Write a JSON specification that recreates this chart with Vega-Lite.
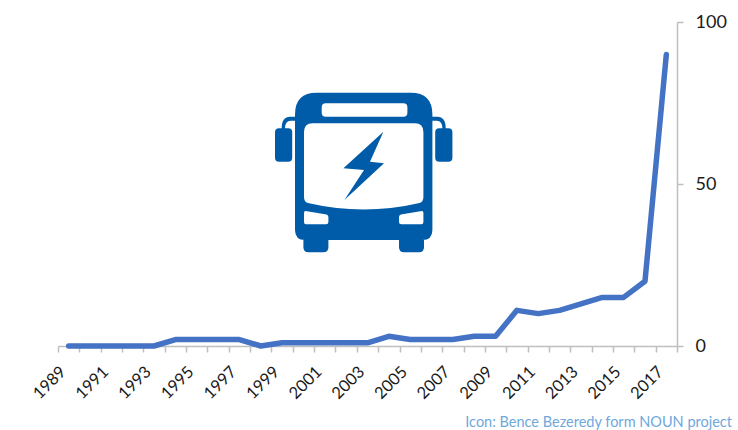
{
"$schema":"https://vega.github.io/schema/vega-lite/v6.json",
"width":619,"height":324,"autosize":{"type":"none"},
"padding":{"left":58,"top":22,"right":61,"bottom":84},
"background":"white",
"title":{"text":"Icon: Bence Bezeredy form NOUN project","orient":"bottom","anchor":"end","frame":"group","offset":14,"dx":55,"limit":800,"font":"Lato","fontSize":14.5,"fontWeight":"normal","color":"#6FA8DC"},
"config":{"view":{"stroke":null}},
"layer":[
{"data":{"values":[
{"year":"1989","value":0},{"year":"1990","value":0},{"year":"1991","value":0},{"year":"1992","value":0},{"year":"1993","value":0},{"year":"1994","value":2},{"year":"1995","value":2},{"year":"1996","value":2},{"year":"1997","value":2},{"year":"1998","value":0},{"year":"1999","value":1},{"year":"2000","value":1},{"year":"2001","value":1},{"year":"2002","value":1},{"year":"2003","value":1},{"year":"2004","value":3},{"year":"2005","value":2},{"year":"2006","value":2},{"year":"2007","value":2},{"year":"2008","value":3},{"year":"2009","value":3},{"year":"2010","value":11},{"year":"2011","value":10},{"year":"2012","value":11},{"year":"2013","value":13},{"year":"2014","value":15},{"year":"2015","value":15},{"year":"2016","value":20},{"year":"2017","value":90}]},
"mark":{"type":"line","color":"#4472C4","strokeWidth":5.5,"strokeCap":"round","strokeJoin":"round","clip":false},
"encoding":{
"x":{"field":"year","type":"ordinal","title":null,"scale":{"type":"band","paddingInner":0,"paddingOuter":0},
"axis":{"tickBand":"extent","labelAngle":-45,"labelAlign":"right","labelBaseline":"middle","labelOverlap":false,"labelPadding":17,"labelOffset":-6,"labelFont":"Lato","labelFontSize":16.5,"labelColor":"#1A1A1A","labelExpr":"parseInt(datum.label)%2==1 ? datum.label : ''","domainColor":"#BFBFBF","domainWidth":1.5,"tickColor":"#BFBFBF","tickWidth":1.5,"tickSize":6,"grid":false}},
"y":{"field":"value","type":"quantitative","title":null,"scale":{"domain":[0,100]},
"axis":{"orient":"right","values":[0,50,100],"labelPadding":12,"labelFont":"Lato","labelFontSize":18,"labelColor":"#1A1A1A","domainColor":"#BFBFBF","domainWidth":1.5,"tickColor":"#BFBFBF","tickWidth":1.5,"tickSize":6,"grid":false}}
}},
{"data":{"values":[{"year":"2003","value":54}]},
"mark":{"type":"point","filled":true,"opacity":1,"size":40000,"color":"#005CA9","shape":"M -0.508 -0.783 L 0.432 -0.783 Q 0.649 -0.783 0.649 -0.566 L 0.649 0.59 Q 0.649 0.69 0.549 0.69 L 0.565 0.69 L 0.565 0.763 Q 0.565 0.813 0.515 0.813 L 0.365 0.813 Q 0.315 0.813 0.315 0.763 L 0.315 0.69 L -0.391 0.69 L -0.391 0.763 Q -0.391 0.813 -0.441 0.813 L -0.591 0.813 Q -0.641 0.813 -0.641 0.763 L -0.641 0.69 L -0.625 0.69 Q -0.725 0.69 -0.725 0.59 L -0.725 -0.566 Q -0.725 -0.783 -0.508 -0.783 Z M -0.885 -0.427 L -0.793 -0.427 Q -0.753 -0.427 -0.753 -0.387 L -0.753 -0.133 Q -0.753 -0.093 -0.793 -0.093 L -0.885 -0.093 Q -0.925 -0.093 -0.925 -0.133 L -0.925 -0.387 Q -0.925 -0.427 -0.885 -0.427 Z M 0.717 -0.427 L 0.809 -0.427 Q 0.849 -0.427 0.849 -0.387 L 0.849 -0.133 Q 0.849 -0.093 0.809 -0.093 L 0.717 -0.093 Q 0.677 -0.093 0.677 -0.133 L 0.677 -0.387 Q 0.677 -0.427 0.717 -0.427 Z M -0.725 -0.543 L -0.775 -0.543 Q -0.858 -0.543 -0.858 -0.427 L -0.825 -0.427 Q -0.825 -0.503 -0.768 -0.503 L -0.725 -0.503 Z M 0.649 -0.543 L 0.699 -0.543 Q 0.782 -0.543 0.782 -0.427 L 0.749 -0.427 Q 0.749 -0.503 0.692 -0.503 L 0.649 -0.503 Z"},
"encoding":{"x":{"field":"year","type":"ordinal"},"y":{"field":"value","type":"quantitative"}}},
{"data":{"values":[{"year":"2003","value":54}]},
"mark":{"type":"point","filled":true,"opacity":1,"size":40000,"color":"#FFFFFF","shape":"M -0.418 -0.677 L 0.359 -0.677 Q 0.399 -0.677 0.399 -0.637 L 0.399 -0.583 Q 0.399 -0.543 0.359 -0.543 L -0.418 -0.543 Q -0.458 -0.543 -0.458 -0.583 L -0.458 -0.637 Q -0.458 -0.677 -0.418 -0.677 Z M -0.55 -0.477 L 0.474 -0.477 Q 0.559 -0.477 0.559 -0.39 L 0.559 0.26 Q 0.559 0.31 0.52 0.32 Q -0.038 0.45 -0.596 0.32 Q -0.635 0.31 -0.635 0.26 L -0.635 -0.39 Q -0.635 -0.477 -0.55 -0.477 Z M -0.62 0.4 L -0.41 0.435 Q -0.391 0.44 -0.391 0.46 L -0.391 0.51 Q -0.391 0.533 -0.415 0.533 L -0.615 0.533 Q -0.635 0.533 -0.635 0.51 L -0.635 0.42 Q -0.635 0.4 -0.62 0.4 Z M 0.544 0.4 L 0.334 0.435 Q 0.315 0.44 0.315 0.46 L 0.315 0.51 Q 0.315 0.533 0.339 0.533 L 0.539 0.533 Q 0.559 0.533 0.559 0.51 L 0.559 0.42 Q 0.559 0.4 0.544 0.4 Z"},
"encoding":{"x":{"field":"year","type":"ordinal"},"y":{"field":"value","type":"quantitative"}}},
{"data":{"values":[{"year":"2003","value":54}]},
"mark":{"type":"point","filled":true,"opacity":1,"size":40000,"color":"#005CA9","shape":"M 0.159 -0.393 L -0.241 -0.027 L -0.035 -0.01 L -0.231 0.29 L 0.165 -0.077 L 0.025 -0.093 Z"},
"encoding":{"x":{"field":"year","type":"ordinal"},"y":{"field":"value","type":"quantitative"}}}
]
}
